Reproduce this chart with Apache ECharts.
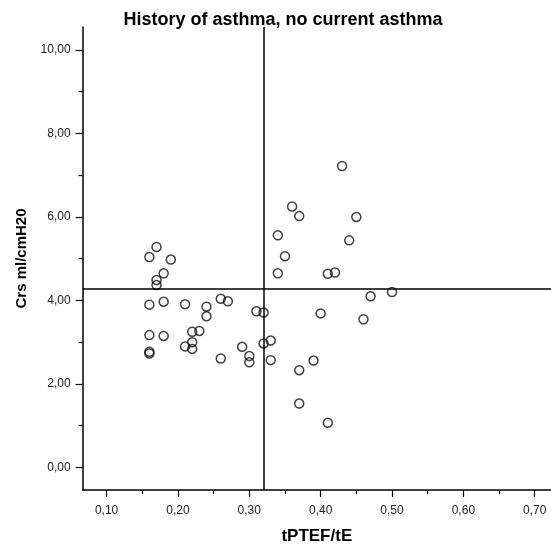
<!DOCTYPE html>
<html>
<head>
<meta charset="utf-8">
<script src="https://cdn.jsdelivr.net/npm/echarts@6/dist/echarts.min.js"></script>
<style>
  html, body { margin: 0; padding: 0; background: #fff; }
  #main { width: 551px; height: 550px; }
</style>
</head>
<body>
<div id="main"></div>
<script>
// tPTEF/tE values
var xValues = [0.36, 0.37, 0.45, 0.43, 0.44, 0.34, 0.35, 0.34, 0.41, 0.42,
    0.47, 0.50, 0.40, 0.46, 0.17, 0.16, 0.19, 0.18, 0.17, 0.17,
    0.16, 0.18, 0.21, 0.24, 0.24, 0.26, 0.27, 0.31, 0.32, 0.16,
    0.18, 0.22, 0.23, 0.16, 0.16, 0.21, 0.22, 0.22, 0.26, 0.29,
    0.30, 0.30, 0.32, 0.33, 0.33, 0.37, 0.39, 0.37, 0.41];
// Crs ml/cmH20 values
var yValues = [6.25, 6.02, 6.00, 7.22, 5.44, 5.56, 5.06, 4.65, 4.64, 4.67,
    4.10, 4.20, 3.69, 3.55, 5.28, 5.04, 4.98, 4.65, 4.49, 4.37,
    3.90, 3.97, 3.91, 3.85, 3.62, 4.04, 3.98, 3.74, 3.71, 3.17,
    3.15, 3.25, 3.27, 2.77, 2.73, 2.90, 3.00, 2.84, 2.61, 2.89,
    2.67, 2.52, 2.97, 3.04, 2.57, 2.33, 2.56, 1.53, 1.07];
// reference lines
var refX = 0.322;
var refY = 4.29;
var xMajorTicks = [0.1, 0.2, 0.3, 0.4, 0.5, 0.6, 0.7];
var xMinorTicks = [0.15, 0.25, 0.35, 0.45, 0.55, 0.65];
var yMajorTicks = [0, 2, 4, 6, 8, 10];
var yMinorTicks = [1, 3, 5, 7, 9];

var points = [];
for (var i = 0; i < xValues.length; i++) {
    points.push([xValues[i], yValues[i]]);
}

function fmt(v) {
    return v.toFixed(2).replace('.', ',');
}

var font = '"Liberation Sans", Arial, sans-serif';
var xMin = 0.0664, xMax = 0.7228, yMin = -0.54, yMax = 10.55;

var chart = echarts.init(document.getElementById('main'));
chart.setOption({
    animation: false,
    title: {
        text: 'History of asthma, no current asthma',
        left: 278,
        textAlign: 'center',
        top: 6,
        textStyle: { fontFamily: font, fontSize: 18, fontWeight: 'bold', color: '#000' }
    },
    grid: { left: 82.6, right: 0, top: 27, bottom: 59.3 },
    xAxis: [
        {
            type: 'value',
            min: xMin,
            max: xMax,
            name: 'tPTEF/tE',
            nameLocation: 'middle',
            nameGap: 38,
            nameTextStyle: { fontFamily: font, fontSize: 17, fontWeight: 'bold', color: '#000' },
            axisLine: { show: true, onZero: false, lineStyle: { color: '#000', width: 1.5 } },
            axisTick: { show: true, length: 7, customValues: xMajorTicks, lineStyle: { color: '#000', width: 1.2 } },
            axisLabel: {
                customValues: xMajorTicks, margin: 15,
                fontFamily: font, fontSize: 12, color: '#222',
                formatter: fmt
            },
            splitLine: { show: false }
        },
        {
            type: 'value',
            min: xMin,
            max: xMax,
            position: 'bottom',
            axisLine: { show: false, onZero: false },
            axisTick: { show: true, length: 4, customValues: xMinorTicks, lineStyle: { color: '#000', width: 1.2 } },
            axisLabel: { show: false },
            splitLine: { show: false }
        }
    ],
    yAxis: [
        {
            type: 'value',
            min: yMin,
            max: yMax,
            name: 'Crs ml/cmH20',
            nameLocation: 'middle',
            nameGap: 49,
            nameTextStyle: { fontFamily: font, fontSize: 15, fontWeight: 'bold', color: '#000' },
            axisLine: { show: true, onZero: false, lineStyle: { color: '#000', width: 1.5 } },
            axisTick: { show: true, length: 7, customValues: yMajorTicks, lineStyle: { color: '#000', width: 1.2 } },
            axisLabel: {
                customValues: yMajorTicks, margin: 12,
                fontFamily: font, fontSize: 12, color: '#222',
                formatter: fmt
            },
            splitLine: { show: false }
        },
        {
            type: 'value',
            min: yMin,
            max: yMax,
            position: 'left',
            axisLine: { show: false, onZero: false },
            axisTick: { show: true, length: 4, customValues: yMinorTicks, lineStyle: { color: '#000', width: 1.2 } },
            axisLabel: { show: false },
            splitLine: { show: false }
        }
    ],
    series: [
        {
            type: 'scatter',
            xAxisIndex: 0,
            yAxisIndex: 0,
            data: points,
            symbol: 'circle',
            symbolSize: 9,
            itemStyle: { color: 'rgba(255,255,255,0)', borderColor: '#111', borderWidth: 1.5 },
            emphasis: { disabled: true },
            markLine: {
                silent: true,
                symbol: ['none', 'none'],
                label: { show: false },
                lineStyle: { color: '#000', width: 1.5, type: 'solid' },
                data: [
                    { xAxis: refX },
                    { yAxis: refY }
                ]
            }
        }
    ]
});
</script>
</body>
</html>
